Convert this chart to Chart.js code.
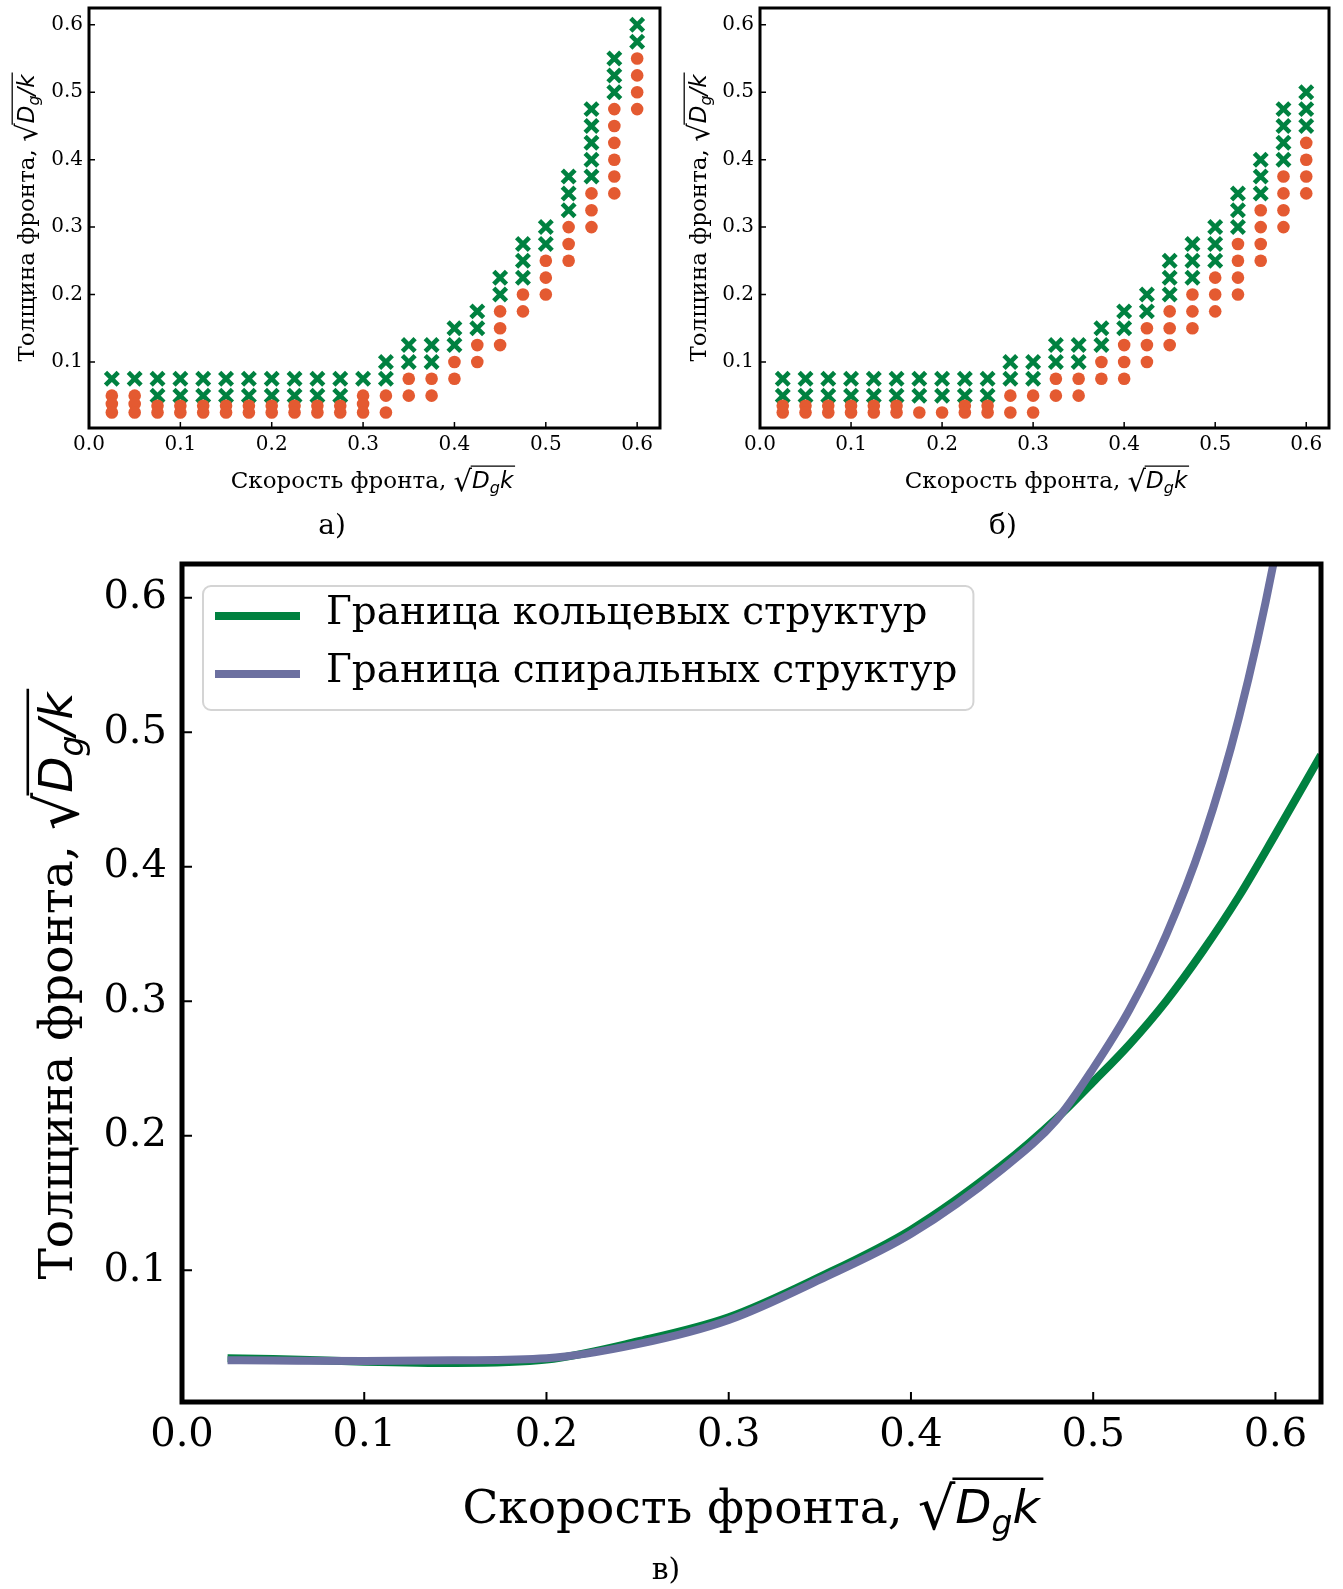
<!DOCTYPE html>
<html>
<head>
<meta charset="utf-8">
<script src="https://cdn.jsdelivr.net/npm/chart.js@4.4.1/dist/chart.umd.min.js"></script>
<style>
  body { margin: 0; background: #fff; width: 1343px; height: 1589px; position: relative; overflow: hidden; }
  canvas { position: absolute; }
</style>
</head>
<body>
<canvas id="ca" width="672" height="545" style="left:0;top:0"></canvas>
<canvas id="cb" width="671" height="545" style="left:672px;top:0"></canvas>
<canvas id="cc" width="1343" height="1044" style="left:0;top:545px"></canvas>
<script>
// columns of speed values used in both scatter panels
const xCols = [0.025, 0.05, 0.075, 0.1, 0.125, 0.15, 0.175, 0.2, 0.225, 0.25, 0.275, 0.3,
  0.325, 0.35, 0.375, 0.4, 0.425, 0.45, 0.475, 0.5, 0.525, 0.55, 0.575, 0.6];

// panel a) - crosses and dots, one list of thickness values per column
const crossA = [[0.075], [0.075], [0.075, 0.05], [0.075, 0.05], [0.075, 0.05], [0.075, 0.05],
  [0.075, 0.05], [0.075, 0.05], [0.075, 0.05], [0.075, 0.05], [0.075, 0.05], [0.075],
  [0.1, 0.075], [0.125, 0.1], [0.125, 0.1], [0.15, 0.125], [0.175, 0.15], [0.225, 0.2],
  [0.275, 0.25, 0.225], [0.3, 0.275], [0.375, 0.35, 0.325], [0.475, 0.45, 0.425, 0.4, 0.375],
  [0.55, 0.525, 0.5], [0.6, 0.575]];
const dotA = [[0.05, 0.0375, 0.025], [0.05, 0.0375, 0.025], [0.035, 0.025], [0.035, 0.025],
  [0.035, 0.025], [0.035, 0.025], [0.035, 0.025], [0.035, 0.025], [0.035, 0.025], [0.035, 0.025],
  [0.035, 0.025], [0.05, 0.0375, 0.025], [0.05, 0.025], [0.075, 0.05], [0.075, 0.05], [0.1, 0.075],
  [0.125, 0.1], [0.175, 0.15, 0.125], [0.2, 0.175], [0.25, 0.225, 0.2], [0.3, 0.275, 0.25],
  [0.35, 0.325, 0.3], [0.475, 0.45, 0.425, 0.4, 0.375, 0.35], [0.55, 0.525, 0.5, 0.475]];

// panel б)
const crossB = [[0.075, 0.05], [0.075, 0.05], [0.075, 0.05], [0.075, 0.05], [0.075, 0.05], [0.075, 0.05],
  [0.075, 0.05], [0.075, 0.05], [0.075, 0.05], [0.075, 0.05], [0.1, 0.075], [0.1, 0.075],
  [0.125, 0.1], [0.125, 0.1], [0.15, 0.125], [0.175, 0.15], [0.2, 0.175], [0.25, 0.225, 0.2],
  [0.275, 0.25, 0.225], [0.3, 0.275, 0.25], [0.35, 0.325, 0.3], [0.4, 0.375, 0.35],
  [0.475, 0.45, 0.425, 0.4], [0.5, 0.475, 0.45]];
const dotB = [[0.035, 0.025], [0.035, 0.025], [0.035, 0.025], [0.035, 0.025], [0.035, 0.025], [0.035, 0.025],
  [0.025], [0.025], [0.035, 0.025], [0.035, 0.025], [0.05, 0.025], [0.05, 0.025],
  [0.075, 0.05], [0.075, 0.05], [0.1, 0.075], [0.125, 0.1, 0.075], [0.15, 0.125, 0.1],
  [0.175, 0.15, 0.125], [0.2, 0.175, 0.15], [0.225, 0.2, 0.175], [0.275, 0.25, 0.225, 0.2],
  [0.325, 0.3, 0.275, 0.25], [0.375, 0.35, 0.325, 0.3], [0.425, 0.4, 0.375, 0.35]];

// panel в) - boundary curves
const ringX = [0.025, 0.05, 0.1, 0.15, 0.2, 0.25, 0.3, 0.35, 0.4, 0.45, 0.48, 0.5, 0.52, 0.54, 0.56, 0.58, 0.6, 0.625];
const ringY = [0.0345, 0.034, 0.032, 0.031, 0.0335, 0.047, 0.065, 0.095, 0.13, 0.178, 0.213, 0.240, 0.268, 0.300, 0.337, 0.378, 0.424, 0.483];
const spiralX = [0.025, 0.05, 0.1, 0.15, 0.2, 0.25, 0.3, 0.35, 0.4, 0.45, 0.48, 0.5, 0.52, 0.54, 0.56, 0.58, 0.6, 0.62];
const spiralY = [0.033, 0.0328, 0.0325, 0.033, 0.0345, 0.045, 0.063, 0.093, 0.127, 0.175, 0.212, 0.25, 0.294, 0.349, 0.419, 0.511, 0.633, 0.793];

const seriesNames = ['Граница кольцевых структур', 'Граница спиральных структур'];
const xTicks = [0, 0.1, 0.2, 0.3, 0.4, 0.5, 0.6];
const yTicks = [0.1, 0.2, 0.3, 0.4, 0.5, 0.6];

const GREEN = '#008140';
const ORANGE = '#e45a31';
const PURPLE = '#6c70a0';

function columnPoints(cols, lists) {
  const out = [];
  lists.forEach((ys, i) => ys.forEach(y => out.push({ x: cols[i], y: y })));
  return out;
}
function pairPoints(xs, ys) {
  return xs.map((x, i) => ({ x: x, y: ys[i] }));
}

// sqrt title drawn by hand, text + radical + overline
function drawMathTitle(ctx, cx, cy, fs, vertical, text, tail) {
  ctx.save();
  ctx.translate(cx, cy);
  if (vertical) ctx.rotate(-Math.PI / 2);
  ctx.fillStyle = '#000';
  ctx.strokeStyle = '#000';
  ctx.textAlign = 'left';
  ctx.textBaseline = 'alphabetic';
  const pieces = [
    [text, fs + 'px "DejaVu Serif"', 0],
    ['√', Math.round(fs * 1.25) + 'px "DejaVu Sans"', fs * 0.12],
    ['D', 'italic ' + fs + 'px "DejaVu Sans"', 0],
    ['g', 'italic ' + Math.round(fs * 0.7) + 'px "DejaVu Sans"', fs * 0.22],
    [tail, 'italic ' + fs + 'px "DejaVu Sans"', 0]
  ];
  const widths = pieces.map(p => { ctx.font = p[1]; return ctx.measureText(p[0]).width; });
  const total = widths.reduce((a, b) => a + b, 0);
  const base = fs * 0.35;
  let x = -total / 2;
  let radEnd = 0;
  pieces.forEach((p, i) => {
    ctx.font = p[1];
    ctx.fillText(p[0], x, base + p[2]);
    x += widths[i];
    if (i === 1) radEnd = x;
  });
  ctx.lineWidth = Math.max(1.2, fs * 0.055);
  ctx.beginPath();
  const oy = base - fs * 0.95;
  ctx.moveTo(radEnd - fs * 0.06, oy);
  ctx.lineTo(x + fs * 0.08, oy);
  ctx.stroke();
  ctx.restore();
}

// frame, inward ticks, axis titles and panel letter
const framePlugin = {
  id: 'frame',
  afterDraw(chart, args, o) {
    const ctx = chart.ctx, a = chart.chartArea;
    const xs = chart.scales.x, ys = chart.scales.y;
    ctx.save();
    ctx.strokeStyle = '#000';
    ctx.lineWidth = o.tickWidth;
    ctx.beginPath();
    xs.ticks.forEach(t => {
      const px = xs.getPixelForValue(t.value);
      ctx.moveTo(px, a.bottom); ctx.lineTo(px, a.bottom - o.tickLen);
    });
    ys.ticks.forEach(t => {
      const py = ys.getPixelForValue(t.value);
      ctx.moveTo(a.left, py); ctx.lineTo(a.left + o.tickLen, py);
    });
    ctx.stroke();
    ctx.lineWidth = o.width;
    ctx.strokeRect(a.left, a.top, a.right - a.left, a.bottom - a.top);
    ctx.restore();
    drawMathTitle(ctx, o.xTitle[0], o.xTitle[1], o.titleSize, false, 'Скорость фронта, ', 'k');
    drawMathTitle(ctx, o.yTitle[0], o.yTitle[1], o.titleSize, true, 'Толщина фронта, ', '/k');
    ctx.save();
    ctx.fillStyle = '#000';
    ctx.font = o.letterSize + 'px "DejaVu Serif"';
    ctx.textAlign = 'center';
    ctx.textBaseline = 'middle';
    ctx.fillText(o.letter, o.letterPos[0], o.letterPos[1]);
    ctx.restore();
  }
};

// legend box inside the plot area
const boxLegend = {
  id: 'boxLegend',
  afterDraw(chart, args, o) {
    if (!o.show) return;
    const ctx = chart.ctx, a = chart.chartArea;
    const left = a.left + o.dx, top = a.top + o.dy;
    ctx.save();
    ctx.font = o.size + 'px "DejaVu Serif"';
    const ds = chart.data.datasets;
    const tw = Math.max(...ds.map(d => ctx.measureText(d.label).width));
    const w = o.textOffset + tw + o.padRight;
    const h = o.height;
    ctx.beginPath();
    ctx.roundRect(left, top, w, h, 8);
    ctx.fillStyle = 'rgba(255,255,255,0.85)';
    ctx.fill();
    ctx.strokeStyle = '#d4d4d4';
    ctx.lineWidth = 2;
    ctx.stroke();
    ds.forEach((d, i) => {
      const yy = top + o.firstRow + i * o.rowGap;
      ctx.strokeStyle = d.borderColor;
      ctx.lineWidth = d.borderWidth;
      ctx.beginPath();
      ctx.moveTo(left + o.lineStart, yy);
      ctx.lineTo(left + o.lineStart + o.lineLen, yy);
      ctx.stroke();
      ctx.fillStyle = '#000';
      ctx.textBaseline = 'middle';
      ctx.textAlign = 'left';
      ctx.fillText(d.label, left + o.textOffset, yy - 2);
    });
    ctx.restore();
  }
};

function axes(yWidth, xHeight, tickSize, yPad, xPad) {
  const tickFont = { family: 'DejaVu Serif', size: tickSize };
  return {
    x: {
      type: 'linear', min: 0, max: 0.625,
      grid: { display: false, drawTicks: false }, border: { display: false },
      ticks: { font: tickFont, color: '#000', padding: xPad, maxRotation: 0, callback: v => v.toFixed(1) },
      afterBuildTicks: s => { s.ticks = xTicks.map(v => ({ value: v })); },
      afterFit: s => { s.height = xHeight; s.paddingLeft = 0; s.paddingRight = 0; }
    },
    y: {
      type: 'linear', min: 0.002, max: 0.625,
      grid: { display: false, drawTicks: false }, border: { display: false },
      ticks: { font: tickFont, color: '#000', padding: yPad, callback: v => v.toFixed(1) },
      afterBuildTicks: s => { s.ticks = yTicks.map(v => ({ value: v })); },
      afterFit: s => { s.width = yWidth; s.paddingTop = 0; s.paddingBottom = 0; }
    }
  };
}

function scatterPanel(id, crosses, dots, yWidth, padRight, frameOpts) {
  return new Chart(document.getElementById(id), {
    type: 'scatter',
    data: {
      datasets: [
        { label: 'dots', data: columnPoints(xCols, dots), pointStyle: 'circle', pointRadius: 6.3,
          pointBackgroundColor: ORANGE, pointBorderWidth: 0, clip: false },
        { label: 'crosses', data: columnPoints(xCols, crosses), pointStyle: 'crossRot', pointRadius: 9,
          pointBorderColor: GREEN, pointBorderWidth: 4.6, pointBackgroundColor: GREEN, clip: false }
      ]
    },
    options: {
      responsive: false, animation: false, devicePixelRatio: 1,
      layout: { autoPadding: false, padding: { left: 0, top: 8, right: padRight, bottom: 77 } },
      scales: axes(yWidth, 40, 20, 6, 5),
      plugins: { legend: { display: false }, tooltip: { enabled: false }, frame: frameOpts, boxLegend: { show: false } }
    },
    plugins: [framePlugin, boxLegend]
  });
}

scatterPanel('ca', crossA, dotA, 89, 12, {
  width: 3, tickLen: 6, tickWidth: 1.5, titleSize: 23,
  xTitle: [372, 480], yTitle: [26, 218], letter: 'а)', letterPos: [332, 527], letterSize: 28
});
scatterPanel('cb', crossB, dotB, 88, 14, {
  width: 3, tickLen: 6, tickWidth: 1.5, titleSize: 23,
  xTitle: [374, 480], yTitle: [26, 218], letter: 'б)', letterPos: [331, 527], letterSize: 28
});

new Chart(document.getElementById('cc'), {
  type: 'scatter',
  data: {
    datasets: [
      { label: seriesNames[0], data: pairPoints(ringX, ringY), showLine: true, borderColor: GREEN,
        borderWidth: 8, pointRadius: 0, cubicInterpolationMode: 'monotone', clip: 0, order: 2 },
      { label: seriesNames[1], data: pairPoints(spiralX, spiralY), showLine: true, borderColor: PURPLE,
        borderWidth: 8, pointRadius: 0, cubicInterpolationMode: 'monotone', clip: 0, order: 1 }
    ]
  },
  options: {
    responsive: false, animation: false, devicePixelRatio: 1,
    layout: { autoPadding: false, padding: { left: 0, top: 19, right: 22, bottom: 127 } },
    scales: axes(182, 60, 40, 15, 10),
    plugins: {
      legend: { display: false }, tooltip: { enabled: false },
      frame: { width: 5, tickLen: 10, tickWidth: 2, titleSize: 47,
        xTitle: [751, 962], yTitle: [56, 441], letter: 'в)', letterPos: [666, 1026], letterSize: 30 },
      boxLegend: { show: true, dx: 21, dy: 22, height: 124, size: 39, firstRow: 30, rowGap: 58,
        lineStart: 12, lineLen: 85, textOffset: 123, padRight: 16 }
    }
  },
  plugins: [framePlugin, boxLegend]
});
</script>
</body>
</html>
